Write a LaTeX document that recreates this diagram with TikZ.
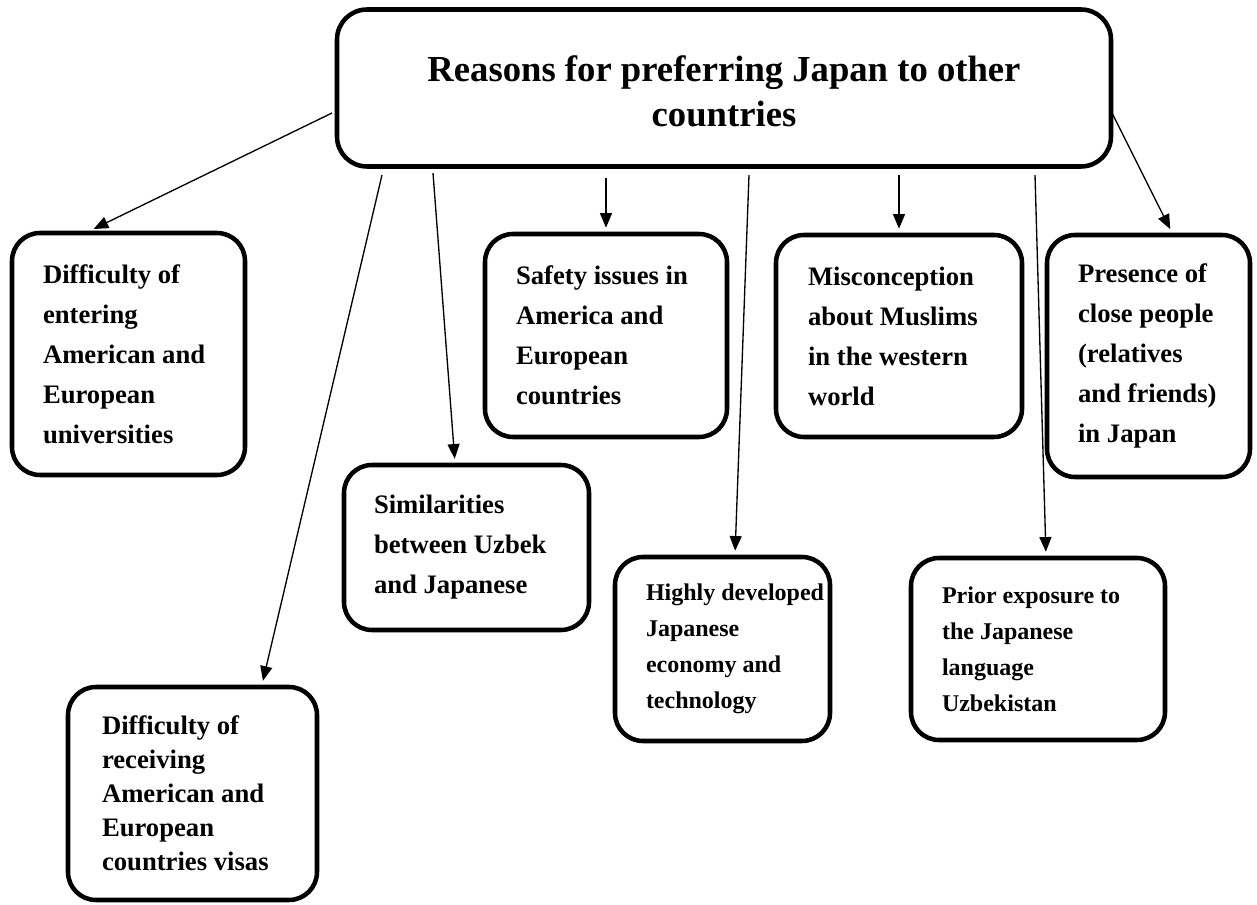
\documentclass[tikz,border=0pt]{standalone}
\usepackage{fontspec}
\setmainfont{Liberation Serif}
\usetikzlibrary{arrows.meta,calc}

\tikzset{
  box/.style={draw, line width=3.4pt, rounded corners=21pt, align=flush left,
    inner sep=0pt, font=\bfseries\fontsize{20pt}{30pt}\selectfont},
  smallbox/.style={box, font=\bfseries\fontsize{18pt}{27pt}\selectfont},
  titlebox/.style={draw, line width=3.4pt, rounded corners=22.5pt, align=flush center,
    inner sep=0pt, font=\bfseries\fontsize{27.5pt}{34pt}\selectfont},
  arr/.style={-{Triangle[length=11pt,width=9pt]}, line width=1pt, shorten >=3pt}
}

\begin{document}
\begin{tikzpicture}[x=0.75pt,y=-0.75pt]
\useasboundingbox (0,0) rectangle (1257,905);

% central topic
\node[titlebox, minimum width=580.5pt, minimum height=117.75pt, text width=525pt,
  text height=24pt]
  (title) at (724,88) {Reasons for preferring Japan to other\\countries};

% reasons
\node[box, minimum width=174.75pt, minimum height=181.5pt, text width=128.25pt]
  (b1) at (128.5,354) {Difficulty of\\entering\\American and\\European\\universities};
\node[box, minimum width=183.75pt, minimum height=123.75pt, text width=138.75pt]
  (b2) at (466.5,547.5) {Similarities\\between Uzbek\\and Japanese};
\node[box, font=\bfseries\fontsize{20pt}{25.5pt}\selectfont,
  minimum width=186.75pt, minimum height=159.75pt, text width=135.75pt]
  (b3) at (192.5,793.5) {Difficulty of\\receiving\\American and\\European\\countries visas};
\node[box, minimum width=181.5pt, minimum height=152.25pt, text width=135pt]
  (b4) at (606,335.5) {Safety issues in\\America and\\European\\countries};
\node[smallbox, minimum width=161.25pt, minimum height=138pt, text width=114.75pt]
  (b5) at (722.5,649) {\mbox{Highly developed}\\Japanese\\economy and\\technology};
\node[box, minimum width=184.5pt, minimum height=151.5pt, text width=136.5pt]
  (b6) at (899,336) {Misconception\\about Muslims\\in the western\\world};
\node[smallbox, minimum width=190.5pt, minimum height=136.5pt, text width=144pt]
  (b7) at (1038,649) {Prior exposure to\\the Japanese\\language\\Uzbekistan};
\node[box, minimum width=152.25pt, minimum height=181.5pt, text width=105.75pt]
  (b8) at (1148.5,356) {Presence of\\close people\\(relatives\\and friends)\\in Japan};

% loose starting points of the connectors, just off the central box
\coordinate (s1) at (332,113);
\coordinate (s2) at (382,175);
\coordinate (s3) at (433,173);
\coordinate (s4) at (606,178);
\coordinate (s5) at (749,175);
\coordinate (s6) at (899,175);
\coordinate (s7) at (1035,175);
\coordinate (s8) at (1112,113);

\draw[arr] (s1) -- ($(b1.north)+(-38.5,0)$);
\draw[arr] (s2) -- ($(b3.north)+(69.5,0)$);
\draw[arr] (s3) -- ($(b2.north)+(-11.5,0)$);
\draw[arr] (s4) -- (b4.north);
\draw[arr] (s5) -- ($(b5.north)+(12.5,0)$);
\draw[arr] (s6) -- (b6.north);
\draw[arr] (s7) -- ($(b7.north)+(8,0)$);
\draw[arr] (s8) -- ($(b8.north)+(23.5,0)$);
\end{tikzpicture}
\end{document}
